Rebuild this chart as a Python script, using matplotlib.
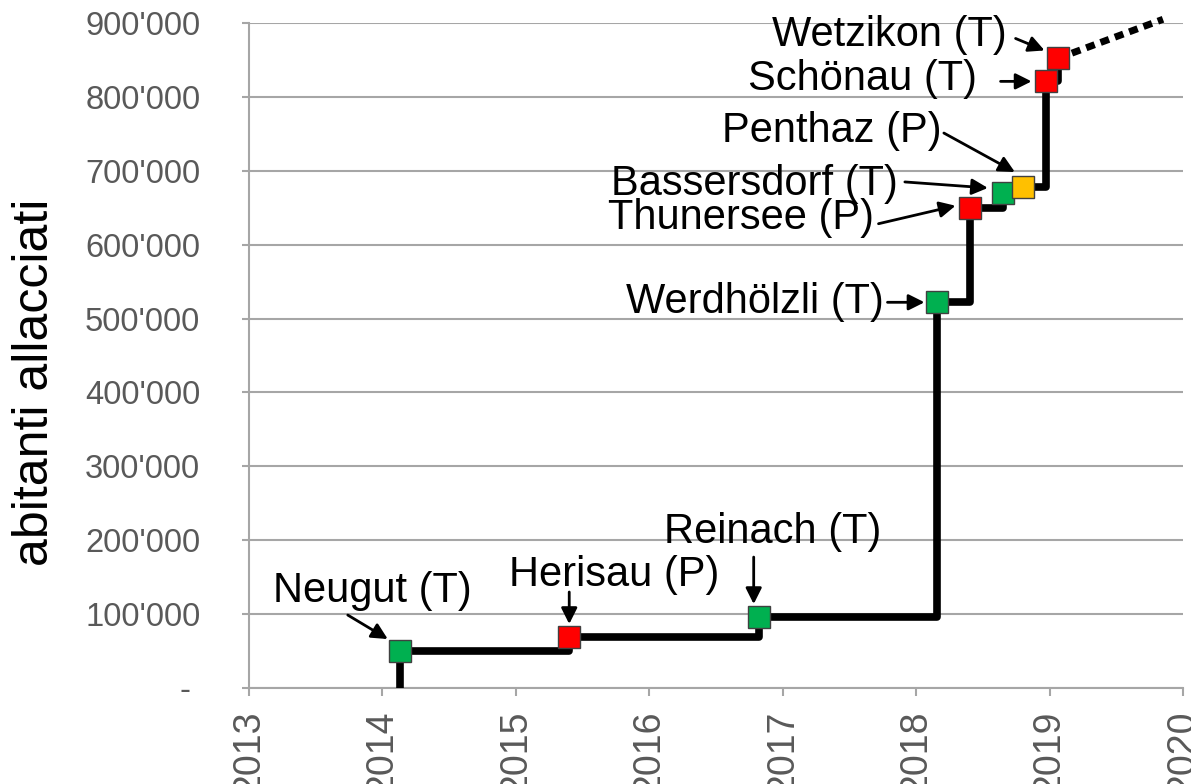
import numpy as np
import matplotlib
matplotlib.use('Agg')
import matplotlib.pyplot as plt

plt.rcParams['font.family'] = ['Liberation Sans', 'DejaVu Sans']

# plants (name, date of start, cumulative inhabitants connected)
plants = ['Neugut (T)', 'Herisau (P)', 'Reinach (T)', 'Werdhölzli (T)', 'Thunersee (P)',
          'Bassersdorf (T)', 'Penthaz (P)', 'Schönau (T)', 'Wetzikon (T)']
years = [2014.13, 2015.40, 2016.82, 2018.16, 2018.40, 2018.65, 2018.80, 2018.97, 2019.06]
values = [50000, 69000, 96000, 522000, 650000, 670000, 678000, 821000, 852000]
kinds = ['green', 'red', 'green', 'green', 'red', 'green', 'orange', 'red', 'red']

# projection after the last plant
proj_years = [2019.06, 2019.85]
proj_values = [852000, 905000]

year_ticks = list(range(2013, 2021))
value_ticks = list(range(0, 900001, 100000))

# label layout (pixels from marker): text dx, dy, ha, arrow tail, arrow head
label_layout = [
    (-27, 60, 'center', (-52, 36), (-12, 12)),
    (45, 62, 'center', (0, 45), (0, 13)),
    (14, 85, 'center', (-5, 60), (-5, 13)),
    (-54, 0, 'right', (-50, 0), (-13, 0)),
    (-96, -10, 'right', (-91, -16), (-14, 2)),
    (-105, 9, 'right', (-98, 11), (-15, 5)),
    (-81, 56, 'right', (-79, 54), (-8, 15)),
    (-69, 2, 'right', (-45, 0), (-14, 0)),
    (-51, 23, 'right', (-42, 20), (-13, 8)),
]

colors = {'green': '#00B050', 'red': '#FF0000', 'orange': '#FFC000'}
grid_col = '#A6A6A6'
tick_col = '#595959'

fig = plt.figure(figsize=(11.91, 7.84), dpi=100)
ax = fig.add_axes([249 / 1191, 1 - 688 / 784, 934 / 1191, 665 / 784])

ax.set_xlim(2013, 2020)
ax.set_ylim(0, 900000)

# step line
sx = [years[0]] + years
sy = [0] + values
ax.step(sx, sy, where='post', color='black', lw=5.5, zorder=3, solid_capstyle='butt')
ax.plot(proj_years, proj_values, color='black', lw=5, linestyle=(0, (1.3, 0.9)),
        dash_capstyle='butt', zorder=3, clip_on=False)

for i in range(len(plants)):
    ax.plot(years[i], values[i], marker='s', ms=16.5, mfc=colors[kinds[i]],
            mec='#404040', mew=1, zorder=4 + i * 0.01)

# labels and arrows, placed in pixels relative to the markers
for i in range(len(plants)):
    dx, dy, ha, tail, head = label_layout[i]
    ax.annotate(plants[i], xy=(years[i], values[i]), xytext=(dx, dy),
                textcoords='offset pixels', ha=ha, va='center', fontsize=30,
                color='black', zorder=6)
    px, py = ax.transData.transform((years[i], values[i]))
    t = ax.transData.inverted().transform((px + tail[0], py + tail[1]))
    h = ax.transData.inverted().transform((px + head[0], py + head[1]))
    ax.annotate('', xy=h, xytext=t,
                arrowprops=dict(arrowstyle='-|>', color='black', lw=2,
                                mutation_scale=24, shrinkA=0, shrinkB=0),
                zorder=6)

ax.set_xticks(year_ticks)
ax.set_xticklabels([str(y) for y in year_ticks], rotation=90, fontsize=27, color=tick_col)
ax.set_yticks(value_ticks)
ylabels = ['- ' if v == 0 else f"{v:,.0f}".replace(',', "'") for v in value_ticks]
ax.set_yticklabels(ylabels, fontsize=23.5, color=tick_col)

ax.grid(axis='y', color=grid_col, lw=1.5, zorder=0)
ax.set_axisbelow(True)
for s in ['top', 'right']:
    ax.spines[s].set_visible(False)
for s in ['left', 'bottom']:
    ax.spines[s].set_color(grid_col)
    ax.spines[s].set_linewidth(1.5)
ax.tick_params(axis='y', length=5, width=1.5, color=grid_col, pad=30)
ax.tick_params(axis='x', length=6, width=1.5, color=grid_col, pad=10)

ax.set_ylabel('abitanti allacciati', fontsize=36, color='black')
ax.yaxis.set_label_coords(-0.205, 0.46)

fig.savefig('out.png', dpi=100)
